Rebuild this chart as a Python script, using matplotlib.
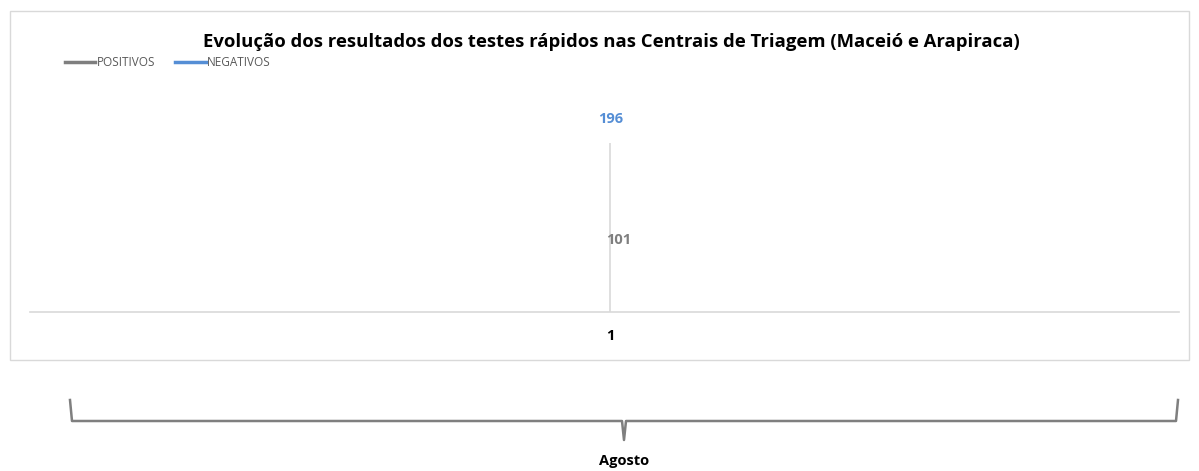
import matplotlib.pyplot as plt
from matplotlib.patches import Rectangle
from matplotlib.lines import Line2D

categorias = ["1"]
positivos = [101]
negativos = [196]
grupo = "Agosto"
titulo = "Evolução dos resultados dos testes rápidos nas Centrais de Triagem (Maceió e Arapiraca)"

cor_pos = "#7f7f7f"
cor_neg = "#558ed5"

plt.rcParams['font.family'] = ['Open Sans', 'DejaVu Sans']

W, H = 1199, 471
fig = plt.figure(figsize=(W / 100, H / 100), dpi=100)

def fx(px):
    return px / W

def fy(py):
    return 1 - py / H

# moldura do grafico
fig.patches.append(Rectangle((fx(10), fy(360)), fx(1189) - fx(10), fy(11) - fy(360),
                             transform=fig.transFigure, fill=False, edgecolor="#d9d9d9", lw=1))

ax = fig.add_axes([fx(30), fy(312), fx(1179) - fx(30), fy(100) - fy(312)])
x = list(range(1, len(categorias) + 1))

ax.plot(x, positivos, color=cor_pos, lw=2.5, label="POSITIVOS")
ax.plot(x, negativos, color=cor_neg, lw=2.5, label="NEGATIVOS")
ax.vlines(x, 0, [max(p, n) for p, n in zip(positivos, negativos)], color="#d9d9d9", lw=1.2)

for xi, v in zip(x, negativos):
    ax.annotate(str(v), (xi, v), xytext=(0, 12), textcoords="offset points",
                ha="center", va="bottom", color=cor_neg, fontsize=10.5, fontweight="bold")
for xi, v in zip(x, positivos):
    ax.annotate(str(v), (xi, v), xytext=(6, -11), textcoords="offset points",
                ha="center", va="center", color=cor_pos, fontsize=10.5, fontweight="bold")

ax.set_xlim(0.49, 1.5)
ax.set_ylim(0, 246)
ax.set_xticks(x)
ax.set_xticklabels(categorias, fontsize=10.5, fontweight="bold")
ax.tick_params(axis="x", length=0, pad=12)
ax.set_yticks([])
for s in ["top", "right", "left"]:
    ax.spines[s].set_visible(False)
ax.spines["bottom"].set_color("#d9d9d9")
ax.spines["bottom"].set_linewidth(1.2)
ax.patch.set_visible(False)

fig.text(fx(611), fy(42), titulo, ha="center", va="center", fontsize=13.3, fontweight="bold")

leg = fig.legend(loc="center left", bbox_to_anchor=(fx(54), fy(63)), ncol=2, frameon=False,
                 fontsize=8.5, handlelength=2.6, handletextpad=0.1, columnspacing=1.7)
for t in leg.get_texts():
    t.set_color("#595959")

# chave do grupo
bc = "#7f7f7f"
xs = [70, 72, 622, 624, 626, 1176, 1178]
ys = [400, 421, 421, 440, 421, 421, 400]
fig.add_artist(Line2D([fx(v) for v in xs], [fy(v) for v in ys], color=bc, lw=1.8,
                      transform=fig.transFigure))
fig.text(fx(624), fy(461), grupo, ha="center", va="center", fontsize=10.5, fontweight="bold")

fig.savefig("out.png", dpi=100)
